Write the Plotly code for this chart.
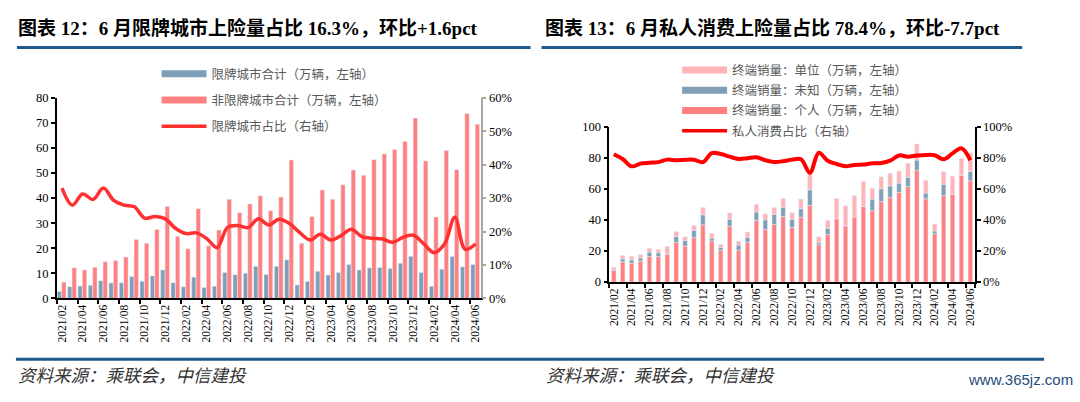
import numpy as np
import plotly.graph_objects as go

months = ["2021/02", "2021/03", "2021/04", "2021/05", "2021/06", "2021/07", "2021/08", "2021/09",
          "2021/10", "2021/11", "2021/12", "2022/01", "2022/02", "2022/03", "2022/04", "2022/05",
          "2022/06", "2022/07", "2022/08", "2022/09", "2022/10", "2022/11", "2022/12", "2023/01",
          "2023/02", "2023/03", "2023/04", "2023/05", "2023/06", "2023/07", "2023/08", "2023/09",
          "2023/10", "2023/11", "2023/12", "2024/01", "2024/02", "2024/03", "2024/04", "2024/05",
          "2024/06"]
tick_labels = months[::2]

# Chart 1 (万辆 / %)
limited_city = [2.8, 4.7, 5.0, 5.3, 7.1, 6.2, 6.3, 8.8, 6.9, 9.0, 11.4, 6.3, 4.7, 8.5, 4.4, 4.9,
                10.4, 9.5, 10.1, 12.8, 9.6, 12.8, 15.4, 5.4, 6.8, 10.9, 9.4, 10.4, 13.5, 11.4, 12.2,
                12.3, 11.9, 14.0, 16.8, 10.4, 4.9, 11.7, 16.7, 12.6, 13.5]
non_limited_city = [6.5, 12.2, 11.4, 12.4, 14.6, 15.1, 16.5, 23.5, 22.0, 27.5, 36.7, 24.8, 19.8,
                    35.8, 21.0, 27.3, 39.5, 34.2, 37.7, 40.9, 35.0, 40.4, 55.2, 22.0, 32.7, 43.2,
                    39.5, 45.3, 51.2, 49.1, 55.3, 57.6, 59.4, 62.6, 71.9, 54.8, 32.5, 59.0, 51.3,
                    73.7, 69.4]
limited_share = [33.0, 27.9, 31.2, 29.6, 33.0, 29.3, 27.9, 27.4, 24.0, 24.5, 23.8, 20.9, 19.4,
                 19.6, 17.9, 15.2, 21.2, 21.8, 21.2, 23.8, 22.0, 23.7, 22.4, 19.7, 17.5, 19.2,
                 17.5, 18.8, 20.7, 18.5, 18.0, 17.8, 16.8, 18.3, 18.9, 16.3, 13.7, 16.3, 24.3,
                 14.7, 16.3]

# Chart 2 (万辆 / %)
sales_personal = [7.5, 13.0, 12.2, 13.5, 16.4, 16.4, 18.0, 25.5, 23.2, 28.6, 36.9, 26.5, 20.5,
                  36.0, 20.7, 25.7, 39.8, 34.0, 37.1, 42.2, 35.2, 41.8, 49.3, 24.0, 30.6, 40.8,
                  36.2, 42.0, 48.6, 46.0, 51.8, 54.5, 57.8, 61.5, 72.0, 53.6, 31.1, 55.7, 56.5,
                  68.8, 65.2]
sales_unknown = [0.8, 1.9, 2.1, 2.0, 2.9, 2.6, 0.0, 3.9, 3.5, 4.7, 6.4, 1.7, 1.7, 4.4, 3.1, 3.1,
                 5.3, 6.0, 6.4, 6.0, 5.2, 5.4, 10.1, 1.3, 4.0, 0.0, 0.0, 0.0, 0.0, 7.4, 8.2, 7.4,
                 5.8, 5.8, 6.5, 3.7, 1.8, 7.2, 0.0, 0.0, 6.0]
sales_unit = [1.2, 2.3, 2.3, 2.3, 2.4, 2.1, 5.0, 3.1, 2.5, 3.1, 4.7, 3.1, 2.2, 4.1, 2.5, 3.5, 5.0,
              3.9, 4.5, 5.6, 4.3, 6.2, 11.0, 3.9, 5.2, 13.0, 12.9, 13.7, 16.2, 7.0, 7.7, 8.1,
              7.8, 9.1, 10.3, 8.3, 4.4, 8.3, 11.6, 10.9, 12.0]
private_share = [82.3, 79.2, 74.5, 76.2, 76.8, 77.2, 78.8, 78.4, 78.7, 78.7, 77.2, 83.0, 82.4,
                 80.7, 79.2, 79.7, 80.3, 78.4, 77.3, 77.8, 78.8, 79.0, 70.4, 83.2, 78.1, 76.0,
                 74.5, 75.4, 75.6, 76.4, 76.6, 78.1, 81.5, 80.7, 81.4, 81.8, 81.6, 79.0, 82.8,
                 86.1, 78.4]

W, H = 1080, 402
def px(x):
    return x / W
def py(y):
    return 1 - y / H

C_BLUE = "#7F9FB8"
C_RED = "#FF8080"
C_PINK = "#FFB5B8"
C_LINE1 = "#FF3030"
C_LINE2 = "#FF0000"
NUM_FONT = "Liberation Serif, Noto Sans CJK SC"
CJK_FONT = "Noto Sans CJK SC"

fig = go.Figure()

# ---- Chart 1 ----
fig.add_trace(go.Bar(x=months, y=limited_city, marker_color=C_BLUE, width=0.42, offset=-0.46,
                     xaxis="x", yaxis="y", showlegend=False, name="限牌城市合计（万辆，左轴）"))
fig.add_trace(go.Bar(x=months, y=non_limited_city, marker_color=C_RED, width=0.42, offset=-0.03,
                     xaxis="x", yaxis="y", showlegend=False, name="非限牌城市合计（万辆，左轴）"))
fig.add_trace(go.Scatter(x=months, y=limited_share, mode="lines",
                         line=dict(color=C_LINE1, width=3.5, shape="spline", smoothing=1.0),
                         xaxis="x", yaxis="y2", showlegend=False, name="限牌城市占比（右轴）"))
for nm, col, w, g in [("限牌城市合计（万辆，左轴）", C_BLUE, 7, "a"),
                      ("非限牌城市合计（万辆，左轴）", C_RED, 7, "b"),
                      ("限牌城市占比（右轴）", C_LINE1, 3.5, "c")]:
    fig.add_trace(go.Scatter(x=[None], y=[None], mode="lines", line=dict(color=col, width=w),
                             name=nm, legend="legend", legendgroup=g, xaxis="x", yaxis="y"))

# ---- Chart 2 ----
base_unknown = np.array(sales_personal)
base_unit = np.array(sales_personal) + np.array(sales_unknown)
fig.add_trace(go.Bar(x=months, y=sales_personal, marker_color=C_RED, width=0.5,
                     xaxis="x2", yaxis="y3", showlegend=False, name="终端销量：个人（万辆，左轴）"))
fig.add_trace(go.Bar(x=months, y=sales_unknown, base=base_unknown, marker_color=C_BLUE, width=0.5,
                     xaxis="x2", yaxis="y3", showlegend=False, name="终端销量：未知（万辆，左轴）"))
fig.add_trace(go.Bar(x=months, y=sales_unit, base=base_unit, marker_color=C_PINK, width=0.5,
                     xaxis="x2", yaxis="y3", showlegend=False, name="终端销量：单位（万辆，左轴）"))
fig.add_trace(go.Scatter(x=months, y=private_share, mode="lines",
                         line=dict(color=C_LINE2, width=4, shape="spline", smoothing=1.0),
                         xaxis="x2", yaxis="y4", showlegend=False, name="私人消费占比（右轴）"))
for nm, col, w, g in [("终端销量：单位（万辆，左轴）", C_PINK, 7, "d"),
                      ("终端销量：未知（万辆，左轴）", C_BLUE, 7, "e"),
                      ("终端销量：个人（万辆，左轴）", C_RED, 7, "f"),
                      ("私人消费占比（右轴）", C_LINE2, 3.5, "g")]:
    fig.add_trace(go.Scatter(x=[None], y=[None], mode="lines", line=dict(color=col, width=w),
                             name=nm, legend="legend2", legendgroup=g, xaxis="x2", yaxis="y3"))

axis_common = dict(showgrid=False, zeroline=False, showline=True, linecolor="#000000",
                   linewidth=1.5, ticks="outside", ticklen=4, tickwidth=1.5, tickcolor="#000000",
                   tickfont=dict(family=NUM_FONT, size=12.5, color="#000000"))

xcommon = dict(type="category", categoryorder="array", categoryarray=months,
               tickvals=tick_labels, ticktext=tick_labels, tickangle=-90, tickson="boundaries",
               range=[-0.5, 40.5], showgrid=False, zeroline=False, showline=True,
               linecolor="#000000", linewidth=1.5, ticks="outside", ticklen=4, tickwidth=1.5,
               tickcolor="#000000", tickfont=dict(family=NUM_FONT, size=11.5, color="#000000"))

fig.update_layout(
    width=W, height=H, margin=dict(l=0, r=0, t=0, b=0),
    paper_bgcolor="white", plot_bgcolor="white", barmode="overlay",
    xaxis=dict(domain=[px(55), px(480)], anchor="y", **xcommon),
    yaxis=dict(domain=[py(302), py(94)], range=[0, 80], dtick=10, anchor="x", **axis_common),
    yaxis2=dict(overlaying="y", side="right", anchor="x", range=[0, 60], dtick=10,
                ticksuffix="%", showgrid=False, zeroline=False, showline=True,
                linecolor="#A6A6A6", linewidth=1.5, ticks="outside", ticklen=4,
                tickcolor="#A6A6A6", tickwidth=1.5,
                tickfont=dict(family=NUM_FONT, size=12.5, color="#000000")),
    xaxis2=dict(domain=[px(609), px(975.5)], anchor="y3", **xcommon),
    yaxis3=dict(domain=[py(285), py(124)], range=[0, 100], dtick=20, anchor="x2", **axis_common),
    yaxis4=dict(overlaying="y3", side="right", anchor="x2", range=[0, 100], dtick=20,
                ticksuffix="%", **axis_common),
    legend=dict(x=px(155), y=py(54), xanchor="left", yanchor="top", bgcolor="rgba(0,0,0,0)",
                font=dict(family=CJK_FONT, size=12.5, color="#595959"), tracegroupgap=7,
                itemwidth=45, traceorder="grouped"),
    legend2=dict(x=px(677), y=py(50), xanchor="left", yanchor="top", bgcolor="rgba(0,0,0,0)",
                 font=dict(family=CJK_FONT, size=12.5, color="#595959"), tracegroupgap=1,
                 itemwidth=45, traceorder="grouped"),
)

# Titles
fig.add_annotation(x=px(14), y=py(22), xref="paper", yref="paper", xanchor="left", yanchor="middle",
                   showarrow=False, text="<b>图表 12：6 月限牌城市上险量占比 16.3%，环比+1.6pct</b>",
                   font=dict(family=NUM_FONT, size=19, color="#000000"))
fig.add_annotation(x=px(543), y=py(22), xref="paper", yref="paper", xanchor="left", yanchor="middle",
                   showarrow=False, text="<b>图表 13：6 月私人消费上险量占比 78.4%，环比-7.7pct</b>",
                   font=dict(family=NUM_FONT, size=19, color="#000000"))
# Footer
for xx in [14, 544]:
    fig.add_annotation(x=px(xx), y=py(381), xref="paper", yref="paper", xanchor="left",
                       yanchor="middle", showarrow=False, text="资料来源：乘联会，中信建投",
                       font=dict(family=CJK_FONT, size=17.5, color="#333333", style="italic"))
fig.add_annotation(x=px(1076), y=py(386), xref="paper", yref="paper", xanchor="right",
                   yanchor="middle", showarrow=False, text="www.365jz.com",
                   font=dict(family="Liberation Sans Narrow, Liberation Sans", size=15, color="#1F4E79"))

LINE_BLUE = "#1F5A8F"
fig.add_shape(type="line", xref="paper", yref="paper", x0=px(15), x1=px(530), y0=py(42), y1=py(42),
              line=dict(color=LINE_BLUE, width=3))
fig.add_shape(type="line", xref="paper", yref="paper", x0=px(541), x1=px(1023), y0=py(42), y1=py(42),
              line=dict(color=LINE_BLUE, width=3))
fig.add_shape(type="line", xref="paper", yref="paper", x0=px(14), x1=px(1045), y0=py(365), y1=py(365),
              line=dict(color=LINE_BLUE, width=3))

fig.write_html("out.html", config={"displayModeBar": False},
               post_script="document.body.style.margin='0';document.body.style.overflow='hidden';")
